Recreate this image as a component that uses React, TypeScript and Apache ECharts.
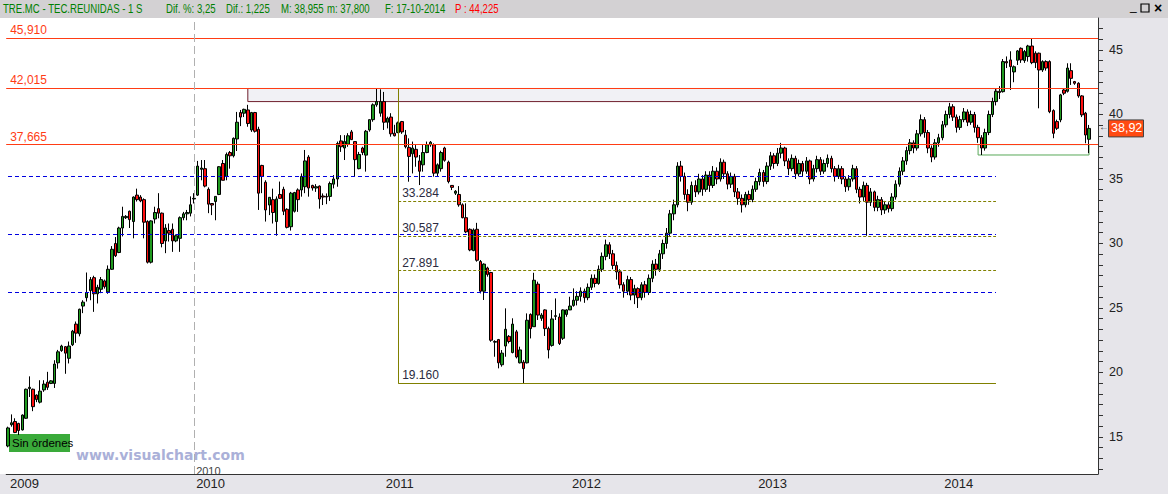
import React, { useEffect, useRef } from "react";
import * as echarts from "echarts";

// Weekly candles: [open, close, low, high]
const weeks2009: number[][] = [
  [14.3, 15.7, 14.2, 15.8], [15.95, 16.1, 15.8, 16.75], [16.2, 15.35, 15.3, 16.45], [16.05, 15.5, 15.15, 16.1],
  [15.55, 16.7, 15.5, 16.75], [16.45, 18.7, 16.4, 18.75], [18.75, 18.85, 18.1, 19.7], [18.7, 17.35, 17.0, 18.75],
  [18.25, 17.9, 17.7, 18.3], [17.7, 18.55, 17.6, 19.4], [18.65, 19.1, 18.5, 19.4], [19.25, 18.85, 18.65, 20.05],
  [19.15, 19.35, 19.1, 19.4], [19.15, 20.65, 18.8, 20.95], [20.75, 21.6, 20.3, 21.75], [21.7, 22.05, 21.6, 22.15],
  [22.0, 21.5, 19.9, 22.05], [21.1, 22.05, 20.7, 22.4], [22.15, 23.2, 22.05, 23.3], [23.75, 23.05, 22.3, 23.95],
  [23.0, 24.9, 22.8, 24.95], [25.15, 25.45, 24.6, 25.6], [25.8, 26.2, 25.5, 27.75], [26.35, 27.2, 25.6, 27.4],
  [27.35, 26.1, 24.7, 27.5], [26.1, 26.6, 25.35, 26.8], [26.45, 27.2, 26.15, 27.4], [27.1, 26.65, 26.5, 27.2],
  [26.25, 28.0, 26.1, 28.3], [28.0, 29.55, 27.95, 29.8], [30.0, 29.05, 28.95, 30.5], [29.3, 31.2, 29.25, 31.3],
  [31.2, 32.1, 30.55, 32.85], [32.0, 32.1, 31.9, 32.2], [32.5, 31.85, 31.2, 32.55], [31.7, 33.6, 30.4, 33.65],
  [33.75, 33.4, 33.25, 34.25], [33.6, 33.3, 33.2, 33.75], [33.4, 31.65, 30.4, 33.5], [31.7, 28.55, 28.45, 31.8],
  [28.55, 31.75, 28.45, 31.8], [31.9, 32.4, 31.55, 32.85], [32.7, 32.35, 31.95, 33.9], [32.35, 30.0, 29.7, 32.4],
  [30.2, 31.2, 29.25, 31.5], [31.0, 30.8, 30.15, 31.55], [31.1, 30.2, 29.35, 31.55], [30.2, 30.6, 30.1, 30.7],
  [30.4, 32.0, 29.35, 32.1], [32.0, 32.3, 31.8, 32.45], [32.3, 32.4, 31.8, 32.6], [32.35, 33.0, 32.1, 33.65],
  [33.45, 33.5, 33.1, 33.9],
];

const weeks2010: number[][] = [
  [33.75, 36.0, 33.68, 36.4], [35.75, 35.85, 34.9, 36.47], [35.8, 34.45, 34.35, 36.47], [34.2, 33.05, 32.35, 34.35],
  [33.1, 32.98, 32.2, 33.1], [33.25, 33.65, 31.8, 33.65], [33.8, 35.95, 33.75, 36.0], [36.2, 34.9, 34.9, 36.47],
  [35.2, 36.9, 34.9, 37.05], [37.05, 36.8, 35.8, 37.17], [36.8, 38.15, 36.67, 38.22], [38.1, 39.4, 37.17, 40.2],
  [40.15, 39.8, 39.1, 40.35], [40.1, 40.4, 39.8, 40.45], [40.35, 39.3, 39.05, 40.75], [38.8, 40.15, 38.65, 40.2],
  [40.15, 38.7, 38.6, 40.2], [38.85, 33.9, 32.6, 39.05], [36.05, 35.2, 33.9, 36.1], [34.75, 32.6, 31.7, 34.9],
  [32.98, 33.58, 32.2, 33.58], [33.4, 32.4, 31.55, 34.25], [31.7, 33.45, 30.6, 33.65], [33.8, 33.5, 33.45, 34.8],
  [34.2, 32.5, 32.2, 34.4], [32.65, 31.25, 31.17, 32.73], [31.3, 33.9, 31.0, 34.0], [32.5, 33.95, 32.4, 34.0],
  [34.15, 33.4, 32.45, 34.27], [34.15, 35.2, 33.63, 35.43], [34.4, 36.4, 33.9, 37.25], [36.7, 34.3, 33.63, 36.85],
  [34.5, 34.3, 34.1, 34.55], [34.3, 34.4, 34.0, 34.6], [34.45, 33.45, 32.7, 34.5], [33.68, 33.6, 32.98, 33.88],
  [33.65, 33.6, 33.05, 33.88], [33.65, 34.65, 33.3, 34.8], [34.6, 35.0, 34.27, 35.3], [35.0, 37.75, 34.4, 37.9],
  [37.95, 37.5, 37.1, 38.4], [37.4, 37.9, 36.47, 38.4], [37.7, 38.35, 37.5, 38.55], [38.65, 38.05, 38.02, 38.8],
  [37.9, 36.5, 35.2, 37.9], [35.8, 36.9, 35.75, 37.1], [37.4, 37.05, 36.85, 37.5], [36.85, 38.7, 35.57, 38.8],
  [38.8, 39.6, 38.67, 39.6], [39.6, 40.75, 39.44, 40.86], [40.75, 41.0, 40.6, 42.015], [40.1, 41.0, 39.83, 41.95],
];

const weeks2011: number[][] = [
  [41.0, 39.4, 38.8, 41.75], [39.4, 39.7, 38.92, 39.83], [39.8, 38.5, 38.28, 40.1], [38.55, 38.35, 38.3, 39.2],
  [38.6, 39.35, 38.55, 39.45], [39.45, 38.65, 38.5, 39.5], [38.4, 37.5, 37.37, 38.8], [37.45, 36.75, 34.79, 38.15],
  [36.95, 37.4, 35.43, 37.9], [37.3, 36.7, 35.95, 37.63], [36.4, 35.6, 34.53, 36.86], [36.1, 37.05, 35.57, 37.63],
  [37.05, 37.65, 37.0, 37.9], [37.65, 37.85, 37.5, 37.94], [37.65, 35.45, 35.18, 37.76], [35.45, 36.1, 35.18, 36.21],
  [35.8, 37.05, 35.57, 37.19], [37.4, 36.45, 36.34, 37.5], [36.3, 34.8, 34.66, 36.42], [34.5, 34.35, 34.14, 34.53],
  [33.9, 34.05, 33.76, 34.14], [33.8, 33.0, 32.85, 34.45], [33.0, 32.0, 31.95, 33.11], [32.0, 30.9, 30.8, 33.11],
  [31.1, 29.5, 29.4, 31.17], [29.45, 31.05, 29.4, 31.17], [31.1, 28.7, 28.59, 31.6], [28.6, 26.3, 26.13, 28.72],
  [26.3, 28.4, 25.62, 28.46], [28.1, 27.6, 27.43, 28.2], [27.75, 22.5, 22.38, 27.8], [22.35, 22.4, 21.22, 22.5],
  [22.55, 20.75, 20.32, 22.6], [20.6, 21.5, 20.45, 21.74], [22.05, 23.35, 21.22, 24.97], [22.8, 22.4, 22.25, 22.9],
  [21.55, 23.75, 21.48, 24.2], [23.15, 21.2, 21.09, 23.3], [20.75, 21.75, 20.7, 22.0], [20.8, 20.3, 19.16, 20.96],
  [20.75, 24.05, 20.7, 24.58], [24.5, 23.4, 22.64, 24.58], [23.55, 27.15, 23.55, 27.73], [26.85, 24.45, 24.07, 27.04],
  [24.2, 24.45, 24.0, 24.6], [24.85, 23.4, 22.83, 24.9], [23.4, 21.75, 21.09, 23.55], [22.1, 24.15, 22.0, 24.84],
  [24.35, 24.4, 24.07, 25.74], [24.3, 22.25, 22.13, 24.58], [22.65, 24.85, 22.52, 24.9], [24.5, 24.85, 24.32, 24.9],
  [24.85, 25.15, 24.85, 25.87], [25.2, 25.6, 25.1, 26.52],
];

const weeks2012: number[][] = [
  [25.6, 25.9, 25.2, 26.3], [25.9, 26.3, 25.5, 26.6], [26.3, 25.8, 25.4, 26.5], [25.8, 26.6, 25.6, 26.9],
  [26.6, 27.3, 26.4, 27.6], [27.3, 26.9, 26.6, 27.6], [26.9, 28.0, 26.8, 28.3], [28.0, 29.0, 27.8, 29.3],
  [29.0, 29.9, 28.7, 30.3], [29.9, 29.2, 28.8, 30.1], [29.2, 28.3, 28.0, 29.5], [28.3, 27.8, 27.2, 28.6],
  [27.8, 26.8, 26.5, 28.0], [26.8, 26.3, 25.8, 27.0], [26.3, 27.2, 26.0, 27.5], [27.2, 26.0, 25.6, 27.4],
  [26.0, 26.5, 25.3, 26.8], [26.5, 25.8, 25.0, 26.6], [25.8, 26.8, 25.6, 27.0], [26.8, 26.2, 25.8, 27.1],
  [26.2, 27.3, 26.0, 27.6], [27.3, 28.4, 27.0, 28.7], [28.4, 28.0, 27.5, 28.8], [28.0, 29.2, 27.8, 29.5],
  [29.2, 30.0, 28.8, 30.3], [30.0, 30.8, 29.6, 31.2], [30.8, 32.3, 30.5, 32.6], [32.3, 33.0, 31.8, 33.4],
  [33.0, 36.0, 32.8, 36.3], [36.0, 35.2, 34.8, 36.4], [35.2, 33.8, 33.4, 35.5], [33.8, 33.2, 32.5, 34.2],
  [33.2, 34.5, 33.0, 34.8], [34.5, 34.0, 33.6, 34.9], [34.0, 35.0, 33.8, 35.4], [35.0, 34.2, 33.7, 35.3],
  [34.2, 35.3, 34.0, 35.6], [35.3, 34.5, 34.0, 35.6], [34.5, 35.6, 34.3, 36.0], [35.6, 35.0, 34.6, 35.9],
  [35.0, 36.3, 34.8, 36.6], [36.3, 35.4, 35.0, 36.5], [35.4, 34.6, 34.2, 35.6], [34.6, 35.2, 34.3, 35.5],
  [35.2, 34.0, 33.6, 35.4], [34.0, 33.5, 33.0, 34.3], [33.5, 33.0, 32.4, 33.8], [33.0, 33.8, 32.8, 34.0],
  [33.8, 33.4, 33.0, 34.1], [33.4, 34.2, 33.2, 34.5],
];

const weeks2013: number[][] = [
  [34.2, 34.8, 34.0, 35.1], [34.8, 35.5, 34.5, 35.8], [35.5, 34.8, 34.4, 35.7], [34.8, 36.0, 34.6, 36.3],
  [36.0, 36.8, 35.7, 37.1], [36.8, 36.2, 35.8, 37.0], [36.2, 37.0, 36.0, 37.4], [37.0, 37.4, 36.6, 37.8],
  [37.4, 36.4, 36.0, 37.5], [36.4, 35.8, 35.3, 36.6], [35.8, 36.6, 35.6, 36.9], [36.6, 35.4, 35.0, 36.8],
  [35.4, 36.2, 35.2, 36.5], [36.2, 35.6, 35.2, 36.4], [35.6, 36.4, 35.4, 36.7], [36.4, 35.0, 34.6, 36.5],
  [35.0, 35.8, 34.8, 36.1], [35.8, 36.5, 35.5, 36.8], [36.5, 35.6, 35.3, 36.7], [35.6, 36.2, 35.4, 36.5],
  [36.2, 36.6, 35.9, 36.9], [36.6, 35.8, 35.5, 36.8], [35.8, 35.2, 34.8, 36.0], [35.2, 35.8, 35.0, 36.1],
  [35.8, 35.0, 34.6, 36.0], [35.0, 34.4, 34.0, 35.2], [34.4, 35.0, 34.1, 35.3], [35.0, 35.8, 34.8, 36.1],
  [35.8, 34.2, 33.9, 36.0], [34.2, 33.6, 33.1, 34.4], [33.6, 34.5, 33.3, 34.8], [34.5, 33.2, 30.6, 34.7],
  [33.2, 34.0, 32.9, 34.3], [34.0, 32.8, 32.5, 34.1], [32.8, 33.4, 32.5, 33.7], [33.4, 32.6, 32.2, 33.6],
  [32.6, 33.0, 32.3, 33.3], [33.0, 32.7, 32.4, 33.2], [32.7, 33.6, 32.5, 33.9], [33.6, 34.6, 33.4, 34.9],
  [34.6, 35.6, 34.4, 35.9], [35.6, 36.4, 35.3, 36.7], [36.4, 37.2, 36.1, 37.5], [37.2, 37.8, 36.9, 38.1],
  [37.8, 37.4, 37.0, 38.0], [37.4, 38.5, 37.2, 38.8], [38.5, 39.6, 38.3, 40.0], [39.6, 38.6, 38.2, 39.8],
  [38.6, 37.4, 37.0, 38.8], [37.4, 36.7, 36.3, 37.6], [36.7, 37.8, 36.5, 38.1], [37.8, 38.2, 37.5, 38.5],
];

const weeks2014: number[][] = [
  [38.2, 39.2, 38.0, 39.5], [39.2, 40.0, 39.0, 40.3], [40.0, 40.6, 39.7, 40.9], [40.6, 39.8, 39.5, 40.8],
  [39.8, 39.0, 38.6, 40.0], [39.0, 39.6, 38.8, 39.9], [39.6, 40.2, 39.4, 40.5], [40.2, 39.4, 39.1, 40.4],
  [39.4, 40.0, 39.2, 40.3], [40.0, 39.0, 38.6, 40.2], [39.0, 38.2, 37.8, 39.2], [38.2, 37.4, 36.86, 38.4],
  [37.4, 38.6, 37.2, 38.9], [38.6, 40.0, 38.4, 40.3], [40.0, 41.0, 39.8, 41.3], [41.0, 41.8, 40.7, 42.0],
  [41.8, 41.7, 41.2, 42.2], [41.77, 44.1, 41.7, 44.3], [44.1, 44.0, 43.6, 44.5], [44.23, 43.71, 41.9, 44.9],
  [43.3, 43.7, 42.5, 43.8], [44.2, 44.93, 43.84, 45.0], [45.13, 44.23, 44.0, 45.2], [44.18, 44.88, 44.0, 45.0],
  [44.49, 45.31, 44.1, 45.4], [45.31, 44.02, 43.9, 45.91], [44.75, 44.02, 43.6, 44.9], [44.75, 43.45, 40.48, 44.8],
  [43.45, 44.1, 43.3, 44.2], [44.1, 43.6, 43.4, 44.2], [44.1, 40.22, 40.1, 44.2], [40.3, 38.54, 38.16, 40.4],
  [39.45, 38.93, 38.8, 39.6], [39.58, 41.52, 39.4, 41.6], [41.9, 41.65, 41.5, 42.0], [41.8, 43.6, 41.7, 43.97],
  [43.4, 42.8, 42.29, 43.97], [42.55, 42.42, 42.3, 42.6], [42.42, 41.44, 41.3, 42.5], [41.44, 39.97, 39.8, 41.5],
  [40.1, 38.41, 37.77, 40.2], [38.08, 38.92, 37.0, 39.19],
];

const redLevels = [45.91, 42.015, 37.665];
const redLabels = ["45,910", "42,015", "37,665"];
const blueLevels = [35.25, 30.75, 26.25];
const fibHigh = 42.015;
const fibLow = 19.16;
const fibMid = [33.284, 30.587, 27.891];
const fibLabels = ["33.284", "30.587", "27.891"];
const boxLow = 41.0;
const endBox = [37.665, 36.86];
const yLabelValues = [15, 20, 25, 30, 35, 40, 45];
const lastPrice = 38.92;
const lastPriceText = "38,92";
const headerParts = [
  { t: "TRE.MC - TEC.REUNIDAS - 1 S", x: 3, c: "#008000" },
  { t: "Dif. %: 3,25", x: 166, c: "#008000" },
  { t: "Dif.: 1,225", x: 226, c: "#008000" },
  { t: "M: 38,955", x: 281, c: "#008000" },
  { t: "m: 37,800", x: 327, c: "#008000" },
  { t: "F: 17-10-2014", x: 385, c: "#008000" },
  { t: "P : 44,225", x: 455, c: "#ff0000" },
];

const SLOTS = 305;
const fibStartIdx = 109;
const boxStartIdx = 67;
const levelEndIdx = 276;
const endBoxStartIdx = 271;

const fontSans = "'Liberation Sans', Arial, sans-serif";

function weekCategories(): string[] {
  const out: string[] = [];
  const d = new Date(Date.UTC(2009, 0, 2));
  for (let i = 0; i < SLOTS; i++) {
    out.push(d.toISOString().slice(0, 10));
    d.setUTCDate(d.getUTCDate() + 7);
  }
  return out;
}

export default function App() {
  const ref = useRef<HTMLDivElement>(null);
  useEffect(() => {
    document.body.style.margin = "0";
    const chart = echarts.init(ref.current!, undefined, { renderer: "svg" });
    const cats = weekCategories();
    const data = [...weeks2009, ...weeks2010, ...weeks2011, ...weeks2012, ...weeks2013, ...weeks2014];
    const lastIdx = data.length - 1;
    const isYearStart = (i: number) => i === 0 || cats[i].slice(0, 4) !== cats[i - 1].slice(0, 4);
    const tickValues: number[] = [];
    for (let k = -3; k <= 38; k++) tickValues.push(15 + (k * 5) / 6);
    const firstOf2010 = cats.findIndex((c) => c.startsWith("2010"));

    const olive = "#808000";
    const labelDark = "#2a2a40";
    const markLineData: any[] = [];
    redLevels.forEach((v, i) => {
      markLineData.push({
        yAxis: v,
        lineStyle: { color: "#ff3c14", width: 1, type: "solid" },
        label: { show: true, position: "insideStartTop", formatter: redLabels[i], color: "#ff3c14", fontSize: 12, fontFamily: fontSans, distance: [4, 2] },
      });
    });
    blueLevels.forEach((v) => {
      markLineData.push([
        { coord: [cats[0], v], lineStyle: { color: "#0000e0", width: 1, type: [4, 3] } },
        { coord: [cats[levelEndIdx], v] },
      ]);
    });
    fibMid.forEach((v, i) => {
      markLineData.push([
        {
          coord: [cats[fibStartIdx], v],
          lineStyle: { color: olive, width: 1, type: [3, 2] },
          label: { show: true, position: "insideStartTop", formatter: fibLabels[i], color: labelDark, fontSize: 12, fontFamily: fontSans, distance: [4, 2] },
        },
        { coord: [cats[levelEndIdx], v] },
      ]);
    });
    markLineData.push([
      {
        coord: [cats[fibStartIdx], fibLow],
        lineStyle: { color: olive, width: 1, type: "solid" },
        label: { show: true, position: "insideStartTop", formatter: "19.160", color: labelDark, fontSize: 12, fontFamily: fontSans, distance: [4, 2] },
      },
      { coord: [cats[levelEndIdx], fibLow] },
    ]);
    markLineData.push([
      {
        coord: [cats[fibStartIdx], fibHigh],
        lineStyle: { color: "#6e1e2c", width: 1, opacity: 0 },
        label: { show: true, position: "insideStartTop", formatter: "42.015", color: labelDark, fontSize: 12, fontFamily: fontSans, distance: [4, 4] },
      },
      { coord: [cats[levelEndIdx], fibHigh] },
    ]);
    markLineData.push([
      { coord: [cats[fibStartIdx], fibHigh], lineStyle: { color: olive, width: 1, type: "solid" } },
      { coord: [cats[fibStartIdx], fibLow] },
    ]);
    markLineData.push({ xAxis: cats[firstOf2010], lineStyle: { color: "#b0b0b0", width: 1, type: [8, 4] } });

    const option: any = {
      animation: false,
      backgroundColor: "#ffffff",
      grid: { left: 6.2, right: 70, top: 18, bottom: 20 },
      xAxis: {
        type: "category",
        data: cats,
        boundaryGap: true,
        axisLine: { lineStyle: { color: "#333333", width: 1 } },
        axisTick: { interval: (i: number) => isYearStart(i), alignWithLabel: true, length: 8, lineStyle: { color: "#333333" } },
        axisLabel: {
          interval: (i: number) => isYearStart(i),
          formatter: (v: string) => v.slice(0, 4),
          align: "left",
          margin: 3,
          padding: [0, 0, 0, 2],
          color: "#222222",
          fontSize: 13,
          fontFamily: fontSans,
        },
        splitLine: { show: false },
      },
      yAxis: {
        type: "value",
        position: "right",
        min: 12.13,
        max: 47.48,
        axisLine: { show: true, lineStyle: { color: "#333333" } },
        axisTick: { show: true, length: 5, customValues: tickValues, lineStyle: { color: "#333333" } },
        axisLabel: { customValues: yLabelValues, margin: 11, color: "#222222", fontSize: 12.5, fontFamily: fontSans, formatter: (v: number) => String(Math.round(v)) },
        splitLine: { show: false },
      },
      series: [
        {
          type: "candlestick",
          data,
          barWidth: 3,
          itemStyle: { color: "#1f9a1f", color0: "#ff1010", borderColor: "#000000", borderColor0: "#000000", borderWidth: 1 },
          markLine: { silent: true, symbol: ["none", "none"], label: { show: false }, data: markLineData },
          markArea: {
            silent: true,
            data: [
              [
                { coord: [cats[boxStartIdx], fibHigh], itemStyle: { color: "#f1f1f5", borderColor: "#6e1e2c", borderWidth: 1 } },
                { coord: [cats[levelEndIdx], boxLow] },
              ],
              [
                { coord: [cats[endBoxStartIdx], endBox[0]], itemStyle: { color: "rgba(0,0,0,0)", borderColor: "#58a858", borderWidth: 1 } },
                { coord: [cats[lastIdx], endBox[1]] },
              ],
            ],
          },
        },
      ],
    };
    chart.setOption(option);

    const py = chart.convertToPixel({ yAxisIndex: 0 }, lastPrice) as number;
    const px2010 = chart.convertToPixel({ xAxisIndex: 0 }, cats[firstOf2010]) as number;
    const panelFill = "#e6e5ea";
    const graphics: any[] = [
      { type: "rect", z: -10, silent: true, shape: { x: 0, y: 0, width: 1168, height: 18 }, style: { fill: "#d3d1d3" } },
      { type: "rect", z: -10, silent: true, shape: { x: 1098, y: 18, width: 70, height: 476 }, style: { fill: panelFill } },
      { type: "rect", z: -10, silent: true, shape: { x: 0, y: 474, width: 1098, height: 20 }, style: { fill: panelFill } },
      ...headerParts.map((h) => ({
        type: "text", silent: true, x: h.x, y: 3, scaleX: 0.8,
        style: { text: h.t, fill: h.c, fontSize: 12, fontFamily: fontSans, textVerticalAlign: "top" },
      })),
      { type: "text", silent: true, x: 1130, y: 0, style: { text: "_", fill: "#000", fontSize: 12, fontFamily: fontSans, textVerticalAlign: "top" } },
      { type: "rect", silent: true, shape: { x: 1141, y: 4, width: 8, height: 8 }, style: { fill: "none", stroke: "#000", lineWidth: 1.2 } },
      { type: "text", silent: true, x: 1154, y: 1, style: { text: "×", fill: "#000", fontSize: 14, fontFamily: fontSans, fontWeight: "bold", textVerticalAlign: "top" } },
      { type: "text", silent: true, x: px2010 + 2, y: 465, style: { text: "2010", fill: "#444", fontSize: 11, fontFamily: fontSans, textVerticalAlign: "top" } },
      { type: "text", silent: true, x: 76, y: 448, style: { text: "www.visualchart.com", fill: "#aab0d8", fontSize: 14, fontWeight: "bold", fontFamily: "'DejaVu Sans', Verdana, sans-serif", textVerticalAlign: "top" } },
      { type: "rect", silent: true, shape: { x: 9, y: 434, width: 61, height: 18 }, style: { fill: "#3aaa3a" } },
      { type: "text", silent: true, x: 12, y: 437, style: { text: "Sin órdenes", fill: "#000", fontSize: 11.5, fontFamily: fontSans, textVerticalAlign: "top" } },
      { type: "rect", silent: true, shape: { x: 1108.5, y: py - 8.5, width: 35, height: 17 }, style: { fill: "#ff4a12", stroke: "#444", lineWidth: 1 } },
      { type: "text", silent: true, x: 1111, y: py - 6.5, style: { text: lastPriceText, fill: "#ffffff", fontSize: 12.5, fontFamily: fontSans, textVerticalAlign: "top" } },
      { type: "text", silent: true, x: 1099, y: py - 7, style: { text: "←", fill: "#444", fontSize: 10, fontFamily: fontSans, textVerticalAlign: "top" } },
    ];
    chart.setOption({ graphic: { elements: graphics } });

    return () => chart.dispose();
  }, []);
  return <div ref={ref} style={{ width: 1168, height: 494, position: "absolute", left: 0, top: 0 }} />;
}
